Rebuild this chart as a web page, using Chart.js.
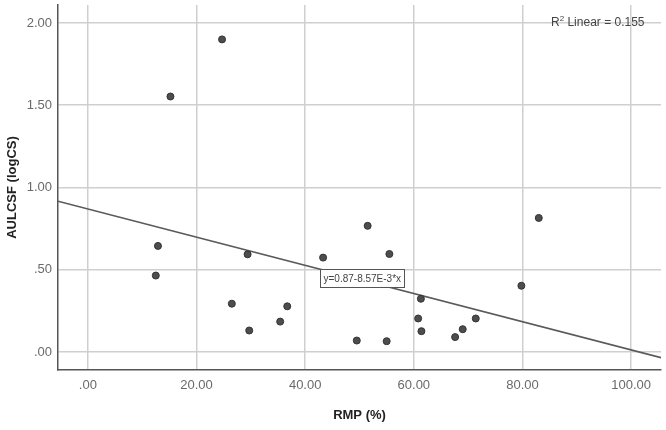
<!DOCTYPE html>
<html>
<head>
<meta charset="utf-8">
<script src="https://cdn.jsdelivr.net/npm/chart.js@4"></script>
<style>
  html, body { margin: 0; padding: 0; background: #fff; }
  #wrap { width: 666px; height: 430px; }
</style>
</head>
<body>
<div id="wrap"><canvas id="chart" width="666" height="430"></canvas></div>
<script>
// RMP (%) vs AULCSF (logCS)
var rmp = [15.2, 24.7, 12.9, 12.5, 29.4, 26.5, 29.7, 35.4, 36.7, 43.3, 51.5,
           55.5, 49.5, 55.0, 61.3, 60.8, 61.4, 67.6, 69.0, 71.4, 79.8, 83.0]
var aulcsf = [1.553, 1.90, 0.645, 0.465, 0.594, 0.294, 0.131, 0.185, 0.278, 0.574, 0.767,
              0.596, 0.070, 0.066, 0.324, 0.204, 0.127, 0.091, 0.139, 0.204, 0.403, 0.815]

// fit line end points (y = 0.87 - 8.57E-3*x) at the plot edges
var fitX = [-5.5, 105.5]
var fitY = [0.917, -0.034]

var xTicks = [0, 20, 40, 60, 80, 100]
var yTicks = [0, 0.5, 1, 1.5, 2]
var fitLabel = 'y=0.87-8.57E-3*x'
var fitLabelAt = 42.75
var r2Text = ' Linear = 0.155'

var points = rmp.map((x, i) => ({ x: x, y: aulcsf[i] }))
var fitPoints = fitX.map((x, i) => ({ x: x, y: fitY[i] }))

function fmt(v) {
    var s = v.toFixed(2)
    return s.charAt(0) === '0' ? s.slice(1) : s
}

var annotations = {
    id: 'annotations',
    afterDatasetsDraw(chart) {
        var ctx = chart.ctx
        var xs = chart.scales.x, ys = chart.scales.y
        // equation box, top-left corner sitting on the fit line
        var yv = fitY[0] + (fitY[1] - fitY[0]) * (fitLabelAt - fitX[0]) / (fitX[1] - fitX[0])
        var bx = Math.round(xs.getPixelForValue(fitLabelAt)) + 0.5
        var by = Math.round(ys.getPixelForValue(yv)) + 0.5
        ctx.save()
        ctx.font = '10px "Liberation Sans", Arial, sans-serif'
        var w = Math.ceil(ctx.measureText(fitLabel).width) + 6
        ctx.fillStyle = '#fff'
        ctx.fillRect(bx, by, w, 18)
        ctx.strokeStyle = '#555'
        ctx.lineWidth = 1
        ctx.strokeRect(bx, by, w, 18)
        ctx.fillStyle = '#444'
        ctx.textBaseline = 'middle'
        ctx.fillText(fitLabel, bx + 3, by + 9.5)

        // R2 note, top right
        var rx = 551, ry = ys.getPixelForValue(2)
        ctx.font = '12px "Liberation Sans", Arial, sans-serif'
        ctx.fillStyle = '#444'
        ctx.textBaseline = 'middle'
        ctx.fillText('R', rx, ry)
        var rw = ctx.measureText('R').width
        ctx.font = '8px "Liberation Sans", Arial, sans-serif'
        ctx.fillText('2', rx + rw, ry - 4)
        var sw = ctx.measureText('2').width
        ctx.font = '12px "Liberation Sans", Arial, sans-serif'
        ctx.fillText(r2Text, rx + rw + sw, ry)
        ctx.restore()
    }
}

document.addEventListener('DOMContentLoaded', () => {
    var ctx = document.getElementById('chart').getContext('2d')
    new Chart(ctx, {
        type: 'scatter',
        data: {
            datasets: [{
                data: fitPoints,
                showLine: true,
                borderColor: '#5a5a5a',
                borderWidth: 1.6,
                pointRadius: 0,
                order: 2
            }, {
                data: points,
                backgroundColor: '#4d4d4d',
                borderColor: '#333',
                borderWidth: 1,
                pointRadius: 3.5,
                order: 1
            }]
        },
        options: {
            responsive: false,
            animation: false,
            layout: { padding: { top: 3, right: 3, left: 0, bottom: 0 } },
            plugins: { legend: { display: false }, tooltip: { enabled: false } },
            scales: {
                x: {
                    type: 'linear',
                    min: -5.5,
                    max: 105.5,
                    afterBuildTicks: (s) => { s.ticks = xTicks.map(v => ({ value: v })) },
                    afterFit: (s) => { s.height = 60; s.paddingLeft = 0; s.paddingRight = 0 },
                    grid: { color: '#cfcfcf', lineWidth: 1.5, drawTicks: false },
                    border: { color: '#555', width: 1.5 },
                    ticks: {
                        padding: 8,
                        color: '#6a6a6a',
                        maxRotation: 0,
                        font: { family: '"Liberation Sans", Arial, sans-serif', size: 13 },
                        callback: (v) => fmt(v)
                    },
                    title: {
                        display: true,
                        text: 'RMP (%)',
                        color: '#222',
                        padding: { top: 0, bottom: 7 },
                        font: { family: '"Liberation Sans", Arial, sans-serif', size: 13, weight: 'bold' }
                    }
                },
                y: {
                    type: 'linear',
                    min: -0.109,
                    max: 2.109,
                    afterBuildTicks: (s) => { s.ticks = yTicks.map(v => ({ value: v })) },
                    afterFit: (s) => { s.width = 58; s.paddingTop = 0; s.paddingBottom = 0 },
                    grid: { color: '#cfcfcf', lineWidth: 1.5, drawTicks: false },
                    border: { color: '#555', width: 1.5 },
                    ticks: {
                        padding: 6,
                        color: '#6a6a6a',
                        font: { family: '"Liberation Sans", Arial, sans-serif', size: 13 },
                        callback: (v) => fmt(v)
                    },
                    title: {
                        display: true,
                        text: 'AULCSF (logCS)',
                        color: '#222',
                        padding: { top: 5, bottom: 0 },
                        font: { family: '"Liberation Sans", Arial, sans-serif', size: 13, weight: 'bold' }
                    }
                }
            }
        },
        plugins: [annotations]
    })
})
</script>
</body>
</html>
